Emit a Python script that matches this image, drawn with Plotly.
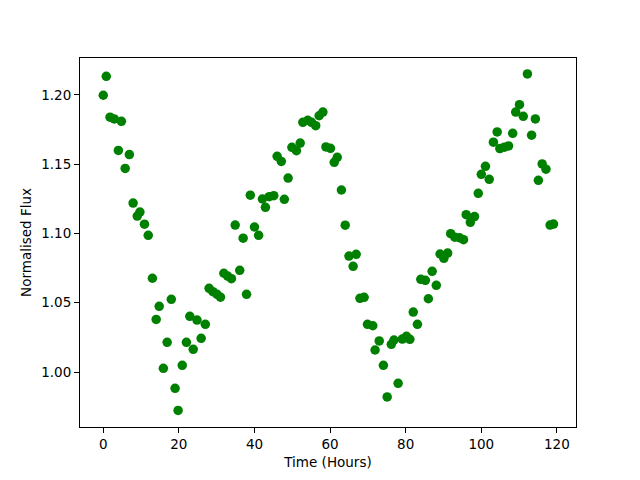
import plotly.graph_objects as go

time_hours = [0.0, 0.8, 1.8, 2.9, 4.0, 4.8, 5.8, 6.9, 7.9, 9.0, 9.7, 10.9, 11.9,
              13.0, 14.0, 14.8, 15.9, 16.9, 18.0, 19.0, 19.8, 20.9, 22.0, 22.9,
              23.8, 24.8, 25.9, 27.0, 28.0, 29.0, 30.1, 31.0, 31.9, 32.9, 33.9,
              34.9, 36.1, 37.0, 37.9, 38.9, 40.0, 41.1, 42.1, 42.9, 43.9, 45.1,
              46.0, 47.1, 47.9, 48.9, 49.9, 51.1, 52.1, 52.8, 54.1, 55.1, 56.2,
              57.1, 58.1, 58.9, 60.1, 61.1, 61.9, 63.0, 64.0, 65.0, 66.1, 66.9,
              67.9, 69.0, 69.9, 71.3, 71.9, 73.0, 74.1, 75.1, 76.2, 76.9, 78.0,
              79.1, 80.2, 81.1, 82.0, 83.1, 84.0, 85.2, 86.0, 87.0, 88.1, 89.1,
              90.1, 91.1, 91.9, 93.0, 94.2, 95.3, 96.0, 97.1, 98.2, 99.2, 100.0,
              101.1, 102.1, 103.2, 104.2, 104.9, 106.1, 107.2, 108.3, 109.1,
              110.1, 111.1, 112.2, 113.3, 114.3, 115.1, 116.1, 117.1, 118.2, 119.1]

normalised_flux = [1.1998, 1.2135, 1.1840, 1.1827, 1.1600, 1.1810, 1.1470, 1.1570,
                   1.1220, 1.1126, 1.1155, 1.1067, 1.0987, 1.0677, 1.0380, 1.0474,
                   1.0027, 1.0214, 1.0525, 0.9882, 0.9723, 1.0048, 1.0214, 1.0402,
                   1.0164, 1.0375, 1.0243, 1.0344, 1.0604, 1.0580, 1.0561, 1.0540,
                   1.0713, 1.0693, 1.0674, 1.1061, 1.0734, 1.0966, 1.0561, 1.1277,
                   1.1047, 1.0987, 1.1249, 1.1189, 1.1266, 1.1273, 1.1557, 1.1520,
                   1.1247, 1.1400, 1.1622, 1.1598, 1.1653, 1.1803, 1.1817, 1.1803,
                   1.1778, 1.1850, 1.1877, 1.1625, 1.1615, 1.1514, 1.1550, 1.1314,
                   1.1060, 1.0837, 1.0763, 1.0850, 1.0532, 1.0539, 1.0344, 1.0334,
                   1.0159, 1.0224, 1.0048, 0.9820, 1.0200, 1.0231, 0.9918, 1.0238,
                   1.0258, 1.0236, 1.0433, 1.0344, 1.0669, 1.0662, 1.0529, 1.0727,
                   1.0626, 1.0852, 1.0821, 1.0859, 1.0999, 1.0973, 1.0970, 1.0955,
                   1.1136, 1.1081, 1.1122, 1.1290, 1.1427, 1.1485, 1.1391, 1.1659,
                   1.1733, 1.1613, 1.1623, 1.1632, 1.1723, 1.1877, 1.1930, 1.1846,
                   1.2152, 1.1710, 1.1827, 1.1384, 1.1502, 1.1464, 1.1061, 1.1068]

x_ticks = [0, 20, 40, 60, 80, 100, 120]
y_ticks = [1.00, 1.05, 1.10, 1.15, 1.20]

fig = go.Figure()
fig.add_trace(go.Scatter(
    x=time_hours, y=normalised_flux, mode="markers",
    marker=dict(color="#008000", size=9.5, line=dict(width=0)),
    showlegend=False,
))

axis_common = dict(
    showline=True, linecolor="black", linewidth=1, mirror=True,
    ticks="outside", ticklen=5, tickwidth=1, tickcolor="black",
    showgrid=False, zeroline=False, automargin=False,
    tickfont=dict(family="DejaVu Sans", size=13.5, color="black"),
)

fig.update_layout(
    width=640, height=480,
    margin=dict(l=72, r=72, t=50, b=61),
    paper_bgcolor="white", plot_bgcolor="white",
    font=dict(family="DejaVu Sans", size=13.5, color="black"),
    xaxis=dict(range=[-6.15, 125.05], tickvals=x_ticks,
               title=dict(text="Time (Hours)", standoff=6,
                          font=dict(family="DejaVu Sans", size=13.5, color="black")),
               **axis_common),
    yaxis=dict(range=[0.9603, 1.2267], tickvals=y_ticks, tickformat=".2f",
               title=dict(text="Normalised Flux", standoff=6,
                          font=dict(family="DejaVu Sans", size=13.5, color="black")),
               **axis_common),
)

fig.write_html("out.html")
